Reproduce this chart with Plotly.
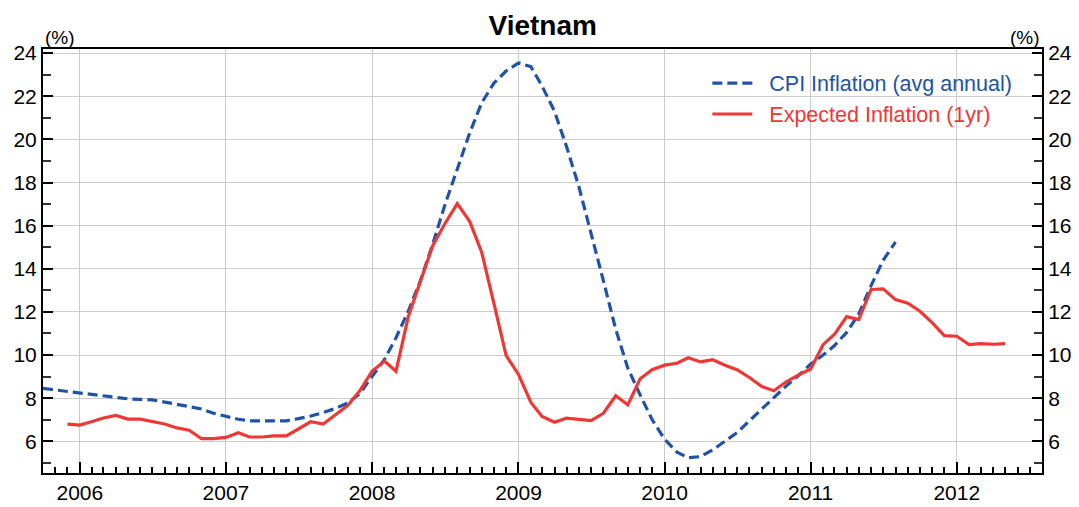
import pandas as pd
import plotly.graph_objects as go

# ---- data (monthly) ----
cpi_start = "2005-10-01"
cpi_values = [
    8.45, 8.38, 8.30,                                                     # 2005 Oct-Dec
    8.26, 8.18, 8.10, 8.03, 7.97, 7.94, 7.92, 7.82, 7.72, 7.62, 7.50, 7.30,  # 2006
    7.15, 7.02, 6.95, 6.94, 6.94, 6.95, 7.05, 7.17, 7.33, 7.52, 7.77, 8.20,  # 2007
    9.00, 9.79, 10.80, 12.05, 13.45, 15.16, 16.95, 18.58, 20.29, 21.69, 22.62, 23.17,  # 2008
    23.54, 23.37, 22.47, 21.30, 19.67, 17.80, 15.70, 13.45, 11.19, 9.40, 8.15, 7.00,  # 2009
    6.10, 5.50, 5.24, 5.29, 5.60, 6.02, 6.40, 6.95, 7.49, 8.03, 8.57, 9.04,  # 2010
    9.58, 10.00, 10.43, 11.05, 11.90, 13.22, 14.39, 15.24,                 # 2011 Jan-Aug
]

exp_start = "2005-12-01"
exp_values = [
    6.80,                                                                  # 2005 Dec
    6.75, 6.92, 7.08, 7.20, 7.03, 7.03, 6.92, 6.80, 6.62, 6.51, 6.12, 6.12,  # 2006
    6.18, 6.40, 6.20, 6.20, 6.25, 6.25, 6.57, 6.91, 6.80, 7.23, 7.65, 8.33,  # 2007
    9.25, 9.72, 9.25, 11.80, 13.45, 15.08, 16.09, 17.02, 16.20, 14.77, 12.36, 9.98,  # 2008
    9.10, 7.80, 7.15, 6.88, 7.07, 7.02, 6.96, 7.30, 8.11, 7.69, 8.90, 9.32,  # 2009
    9.53, 9.62, 9.87, 9.68, 9.78, 9.53, 9.32, 8.96, 8.54, 8.34, 8.76, 9.07,  # 2010
    9.35, 10.48, 10.95, 11.78, 11.64, 13.04, 13.07, 12.57, 12.40, 12.03, 11.49, 10.90,  # 2011
    10.87, 10.48, 10.53, 10.50, 10.53,                                     # 2012 Jan-May
]

series_names = ["CPI Inflation (avg annual)", "Expected Inflation (1yr)"]
title_text = "Vietnam"
unit_label = "(%)"

BLUE = "#2053a8"
RED = "#ee3835"

cpi_dates = pd.date_range(cpi_start, periods=len(cpi_values), freq="MS")
exp_dates = pd.date_range(exp_start, periods=len(exp_values), freq="MS")

FONT = "Liberation Sans, Arial, sans-serif"
GAP = "&nbsp;&nbsp;"

fig = go.Figure()
fig.add_trace(go.Scatter(
    x=cpi_dates, y=cpi_values, mode="lines",
    name=f"{GAP}<span style='color:{BLUE}'>{series_names[0]}</span>",
    line=dict(color=BLUE, width=3.2, dash="10px,5px"),
    yaxis="y",
))
fig.add_trace(go.Scatter(
    x=exp_dates, y=exp_values, mode="lines",
    name=f"{GAP}<span style='color:{RED}'>{series_names[1]}</span>",
    line=dict(color=RED, width=3.2),
    yaxis="y2",
))

yrange = [4.53, 24.19]
common_y = dict(
    range=yrange, dtick=2, tick0=0, ticks="inside", ticklen=10, tickwidth=1.5,
    tickcolor="black", showline=True, linecolor="black", linewidth=2,
    tickfont=dict(size=21, color="black", family=FONT),
    minor=dict(dtick=1, tick0=0, ticks="inside", ticklen=8, tickcolor="#333333", showgrid=False),
    zeroline=False, fixedrange=True, automargin=False,
)

fig.update_layout(
    width=1079, height=507,
    margin=dict(l=43, r=37, t=49, b=34),
    paper_bgcolor="white", plot_bgcolor="white",
    font=dict(family=FONT, color="black"),
    title=dict(text=f"<b>{title_text}</b>", x=0.503, xanchor="center", y=0.951, yanchor="middle",
               font=dict(size=28, color="black", family=FONT)),
    xaxis=dict(
        type="date", range=["2005-10-01", "2012-08-01"],
        dtick="M12", tick0="2006-01-01", tickformat="%Y",
        ticks="inside", ticklen=11, tickwidth=1.5, tickcolor="black",
        showline=True, linecolor="black", linewidth=2, mirror=True,
        showgrid=True, gridcolor="#cccccc", gridwidth=1,
        minor=dict(dtick="M1", ticks="inside", ticklen=6, tickcolor="black", showgrid=False),
        tickfont=dict(size=21, color="black", family=FONT),
        zeroline=False, automargin=False, fixedrange=True,
    ),
    yaxis=dict(**common_y, side="left", showgrid=True, gridcolor="#cccccc", gridwidth=1),
    yaxis2=dict(**common_y, side="right", overlaying="y", showgrid=False, anchor="x"),
    legend=dict(
        x=0.665, y=0.968, xanchor="left", yanchor="top",
        bgcolor="rgba(0,0,0,0)", borderwidth=0,
        font=dict(size=21.5, family=FONT),
        itemwidth=40, tracegroupgap=0,
    ),
    showlegend=True,
    annotations=[
        dict(text=unit_label, xref="paper", yref="paper", x=0, y=1, xanchor="left", yanchor="bottom",
             showarrow=False, font=dict(size=19, color="black", family=FONT), yshift=-1),
        dict(text=unit_label, xref="paper", yref="paper", x=1, y=1, xanchor="right", yanchor="bottom",
             showarrow=False, font=dict(size=19, color="black", family=FONT), yshift=-1),
    ],
)

fig.write_html(
    "out.html",
    config={"displayModeBar": False, "staticPlot": False},
    post_script="document.body.style.margin='0';document.body.style.overflow='hidden';",
)
